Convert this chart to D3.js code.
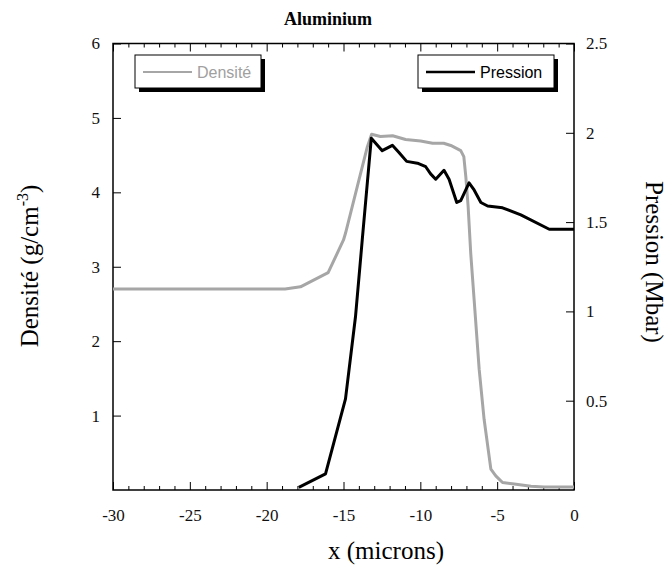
<!DOCTYPE html>
<html>
<head>
<meta charset="utf-8">
<script src="https://cdn.jsdelivr.net/npm/d3@7"></script>
<style>
  html, body { margin: 0; padding: 0; background: #ffffff; }
  svg { display: block; }
  .serif { font-family: "Liberation Serif", "Times New Roman", Times, serif; }
  .sans { font-family: "Liberation Sans", Arial, sans-serif; }
</style>
</head>
<body>
<svg id="chart" width="672" height="566"></svg>
<script>
// ---- Data ----
const title = "Aluminium";
const xTickValues = [-30, -25, -20, -15, -10, -5, 0];
const leftTickValues = [1, 2, 3, 4, 5, 6];
const rightTickValues = [0.5, 1, 1.5, 2, 2.5];

const densityX = [-30, -18.8, -17.8, -16.0, -15.0, -14.87, -14.1, -13.45, -13.17, -12.6, -11.8, -10.96, -9.98, -9.2, -8.48, -8.02, -7.37, -7.17, -7.04, -6.89, -6.72, -6.5, -6.17, -5.85, -5.41, -5.09, -4.65, -3.89, -2.8, -1.95, 0];
const densityY = [2.70, 2.70, 2.73, 2.92, 3.36, 3.45, 4.08, 4.61, 4.78, 4.75, 4.76, 4.71, 4.69, 4.66, 4.66, 4.63, 4.56, 4.48, 4.21, 3.81, 3.18, 2.56, 1.62, 0.95, 0.28, 0.19, 0.10, 0.08, 0.05, 0.04, 0.04];

const pressureX = [-17.91, -16.17, -14.87, -14.22, -13.78, -13.19, -12.48, -11.82, -11.39, -10.89, -10.19, -9.65, -9.33, -9.0, -8.46, -8.13, -7.63, -7.37, -6.83, -6.5, -6.06, -5.62, -4.65, -3.46, -1.61, 0];
const pressureY = [0.015, 0.09, 0.51, 0.97, 1.40, 1.97, 1.90, 1.93, 1.89, 1.84, 1.83, 1.81, 1.77, 1.74, 1.79, 1.74, 1.61, 1.62, 1.72, 1.68, 1.61, 1.59, 1.58, 1.54, 1.46, 1.46];

const seriesNames = ["Densité", "Pression"];

// ---- Layout ----
const svg = d3.select("#chart");
const L = 113, R = 574, T = 43.5, B = 490;

const x = d3.scaleLinear().domain([-30, 0]).range([L, R]);
const yL = d3.scaleLinear().domain([0, 6]).range([B, T]);
const yR = d3.scaleLinear().domain([0, 2.5]).range([B, T]);

svg.append("rect").attr("width", 672).attr("height", 566).attr("fill", "#ffffff");

svg.append("clipPath").attr("id", "plotclip")
  .append("rect").attr("x", L).attr("y", T).attr("width", R - L).attr("height", B - T);

// ---- Axes (ticks inward) ----
const minorX = d3.range(-30, 1, 1).filter(v => v % 5 !== 0);
function styleAxis(g) {
  g.attr("font-family", null).attr("font-size", null);
  g.select(".domain").remove();
  g.selectAll("line").attr("stroke", "#000").attr("stroke-width", 1);
  g.selectAll("text").attr("class", "serif").style("font-size", "17px").attr("fill", "#111");
}
svg.append("g").attr("transform", `translate(0,${B})`)
  .call(d3.axisBottom(x).tickValues(minorX).tickSize(-4).tickFormat(""))
  .call(styleAxis);
svg.append("g").attr("transform", `translate(0,${B})`)
  .call(d3.axisBottom(x).tickValues(xTickValues).tickSize(-8).tickPadding(19).tickFormat(d => String(d)))
  .call(styleAxis);
svg.append("g").attr("transform", `translate(0,${T})`)
  .call(d3.axisTop(x).tickValues(minorX).tickSize(-4).tickFormat(""))
  .call(styleAxis);
svg.append("g").attr("transform", `translate(0,${T})`)
  .call(d3.axisTop(x).tickValues(xTickValues).tickSize(-8).tickFormat(""))
  .call(styleAxis);
svg.append("g").attr("transform", `translate(${L},0)`)
  .call(d3.axisLeft(yL).tickValues(leftTickValues).tickSize(-8).tickPadding(13).tickFormat(d => String(d)))
  .call(styleAxis);
svg.append("g").attr("transform", `translate(${R},0)`)
  .call(d3.axisRight(yR).tickValues(rightTickValues).tickSize(-8).tickPadding(12).tickFormat(d => String(d)))
  .call(styleAxis);

svg.append("rect").attr("x", L).attr("y", T).attr("width", R - L).attr("height", B - T)
  .attr("fill", "none").attr("stroke", "#000").attr("stroke-width", 1.5);

// ---- Lines ----
const densityData = densityX.map((v, i) => [v, densityY[i]]);
const pressureData = pressureX.map((v, i) => [v, pressureY[i]]);

const plot = svg.append("g").attr("clip-path", "url(#plotclip)");
plot.append("path").datum(densityData)
  .attr("fill", "none").attr("stroke", "#a6a6a6").attr("stroke-width", 3).attr("stroke-linejoin", "round")
  .attr("d", d3.line().x(d => x(d[0])).y(d => yL(d[1])));
plot.append("path").datum(pressureData)
  .attr("fill", "none").attr("stroke", "#000").attr("stroke-width", 3).attr("stroke-linejoin", "round")
  .attr("d", d3.line().x(d => x(d[0])).y(d => yR(d[1])));

// ---- Legends ----
function legend(x0, y0, w, h, name, color, lineW, textColor) {
  const g = svg.append("g");
  g.append("rect").attr("x", x0 + 4).attr("y", y0 + 4).attr("width", w).attr("height", h).attr("fill", "#000");
  g.append("rect").attr("x", x0).attr("y", y0).attr("width", w).attr("height", h)
    .attr("fill", "#fff").attr("stroke", "#000").attr("stroke-width", 1);
  g.append("line").attr("x1", x0 + 8).attr("x2", x0 + 57).attr("y1", y0 + 17).attr("y2", y0 + 17)
    .attr("stroke", color).attr("stroke-width", lineW);
  g.append("text").attr("x", x0 + 62).attr("y", y0 + 23).attr("class", "sans").style("font-size", "16px")
    .attr("fill", textColor).text(name);
}
legend(135, 55, 126, 33, seriesNames[0], "#a6a6a6", 2, "#a0a0a0");
legend(418, 55, 136, 33, seriesNames[1], "#000", 2.5, "#000");

// ---- Titles ----
svg.append("text").attr("x", 328).attr("y", 25).attr("text-anchor", "middle").attr("class", "serif")
  .style("font-weight", "bold").style("font-size", "18px").text(title);

svg.append("text").attr("x", 386).attr("y", 559).attr("text-anchor", "middle").attr("class", "serif")
  .style("font-size", "25px").text("x (microns)");

const lt = svg.append("text").attr("transform", "translate(38,266) rotate(-90)").attr("text-anchor", "middle")
  .attr("class", "serif").style("font-size", "25px");
lt.append("tspan").text("Densité (g/cm");
lt.append("tspan").attr("dy", -10).style("font-size", "16px").text("-3");
lt.append("tspan").attr("dy", 10).text(")");

svg.append("text").attr("transform", "translate(646,262) rotate(90)").attr("text-anchor", "middle")
  .attr("class", "serif").style("font-size", "25px").text("Pression (Mbar)");
</script>
</body>
</html>
